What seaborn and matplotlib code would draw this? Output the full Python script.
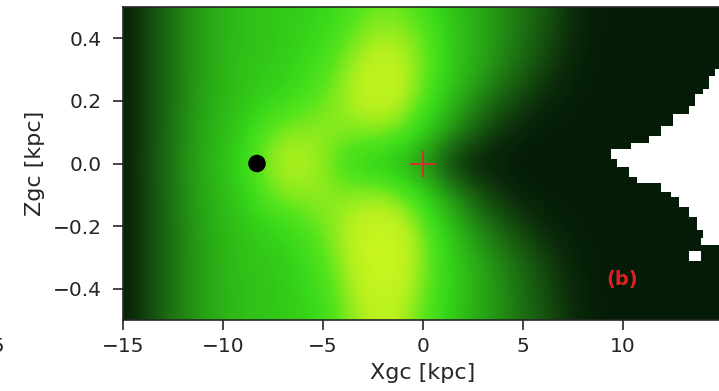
import numpy as np
import seaborn as sns
import matplotlib.pyplot as plt
from matplotlib.colors import LinearSegmentedColormap

# grid of the map (x in kpc, z in kpc)
x_grid = list(range(-15, 16))
z_grid = [0.5, 0.4, 0.3, 0.2, 0.1, 0.0, -0.1, -0.2, -0.3, -0.4, -0.5]

# relative brightness, one row per z value, columns x = -15 .. 15
row_p05 = [.03, .16, .28, .38, .46, .52, .56, .58, .60, .61, .64, .68, .74, .78, .76, .70, .60, .54, .47, .40, .33, .25, .15, .06, .03, .03, .03, .03, .03, .03, .03]
row_p04 = [.03, .16, .28, .38, .46, .52, .56, .58, .60, .63, .67, .74, .84, .88, .86, .78, .65, .56, .48, .40, .32, .23, .13, .05, .03, .03, .03, .03, .03, .03, .03]
row_p03 = [.03, .16, .28, .38, .46, .52, .57, .59, .61, .66, .72, .82, .92, .95, .92, .80, .66, .55, .46, .37, .28, .18, .09, .04, .03, .03, .03, .03, .03, .03, .03]
row_p02 = [.03, .16, .28, .38, .47, .53, .58, .62, .66, .72, .78, .86, .93, .95, .90, .76, .60, .47, .36, .26, .16, .08, .04, .03, .03, .03, .03, .03, .03, .03, .03]
row_p01 = [.03, .16, .28, .39, .48, .55, .62, .74, .82, .84, .84, .82, .82, .82, .76, .62, .48, .36, .22, .11, .05, .03, .03, .03, .03, .03, .03, .03, .03, .03, .03]
row_000 = [.03, .16, .29, .40, .49, .57, .66, .80, .90, .90, .84, .70, .62, .56, .50, .40, .25, .08, .03, .02, .02, .02, .02, .02, .02, .02, .02, .02, .02, .02, .02]
row_m01 = [.03, .16, .28, .39, .48, .55, .62, .74, .82, .84, .84, .83, .85, .85, .78, .64, .49, .36, .22, .11, .05, .03, .03, .03, .03, .03, .03, .03, .03, .03, .03]
row_m02 = [.03, .16, .28, .38, .47, .53, .58, .62, .66, .72, .80, .88, .95, .97, .93, .80, .62, .48, .36, .26, .16, .08, .04, .03, .03, .03, .03, .03, .03, .03, .03]
row_m03 = [.03, .16, .28, .38, .46, .52, .57, .59, .61, .66, .74, .86, .95, .98, .95, .83, .67, .56, .46, .37, .28, .18, .09, .04, .03, .03, .03, .03, .03, .03, .03]
row_m04 = [.03, .16, .28, .38, .46, .52, .56, .58, .60, .64, .70, .82, .93, .96, .93, .80, .67, .57, .48, .40, .31, .22, .12, .05, .03, .03, .03, .03, .03, .03, .03]
row_m05 = [.03, .16, .28, .38, .46, .52, .56, .58, .60, .62, .67, .78, .88, .92, .88, .76, .64, .55, .47, .40, .32, .24, .14, .06, .03, .03, .03, .03, .03, .03, .03]

# blank (white) cells on the right side
mask_z_top = [0.301, 0.279, 0.237, 0.221, 0.183, 0.157, 0.119, 0.087, 0.067, 0.045, 0.013, -0.010, -0.042, -0.061, -0.090, -0.106, -0.138, -0.170, -0.212, -0.237, -0.280]
mask_z_bot = [0.279, 0.237, 0.221, 0.183, 0.157, 0.119, 0.087, 0.067, 0.045, 0.013, -0.010, -0.042, -0.061, -0.090, -0.106, -0.138, -0.170, -0.212, -0.237, -0.260, -0.310]
mask_x_start = [14.6, 14.3, 14.0, 13.6, 13.3, 12.5, 11.9, 11.3, 10.4, 9.4, 9.7, 10.3, 10.7, 11.9, 12.4, 12.8, 13.3, 13.7, 14.0, 13.9, 13.3]
mask_x_end = [15.5, 15.5, 15.5, 15.5, 15.5, 15.5, 15.5, 15.5, 15.5, 15.5, 15.5, 15.5, 15.5, 15.5, 15.5, 15.5, 15.5, 15.5, 15.5, 15.5, 13.9]

sun_x, sun_z = [-8.3], [0.0]
gc_x, gc_z = [0.0], [0.0]

cmap_pos = [0.0, 0.1, 0.3, 0.5, 0.65, 0.75, 0.9, 1.0]
cmap_col = ["#021606", "#0c2e0a", "#1b6a12", "#2aae16", "#38d81a", "#55e41c", "#b4f01e", "#d2f820"]
greens = LinearSegmentedColormap.from_list("gy", list(zip(cmap_pos, cmap_col)))

field = np.array([row_p05, row_p04, row_p03, row_p02, row_p01, row_000,
                  row_m01, row_m02, row_m03, row_m04, row_m05])

sns.set_style("ticks")
plt.rcParams['font.family'] = ['DejaVu Sans']

fig = plt.figure(figsize=(7.19, 3.91), dpi=100)
ax = fig.add_axes([123 / 719, 1 - 320 / 391, 600 / 719, 313 / 391])

ax.imshow(field, cmap=greens, vmin=0, vmax=1, interpolation='bicubic', aspect='auto',
          extent=[x_grid[0] - 0.5, x_grid[-1] + 0.5, z_grid[-1] - 0.05, z_grid[0] + 0.05])

ax.barh(y=[(a + b) / 2 for a, b in zip(mask_z_top, mask_z_bot)],
        width=[e - s for s, e in zip(mask_x_start, mask_x_end)],
        height=[a - b for a, b in zip(mask_z_top, mask_z_bot)],
        left=mask_x_start, color='white', linewidth=0)

sns.scatterplot(x=sun_x, y=sun_z, ax=ax, color='black', s=160, edgecolor='none', zorder=5)
sns.scatterplot(x=gc_x, y=gc_z, ax=ax, color='#dd2a2a', marker='+', s=330, linewidth=1.3, zorder=5)

ax.text(9.95, -0.37, "(b)", color='#e02020', fontsize=14, fontweight='bold', ha='center', va='center')

ax.set_xlim(-15, 15)
ax.set_ylim(-0.5, 0.5)
ax.set_xticks([-15, -10, -5, 0, 5, 10])
ax.set_yticks([-0.4, -0.2, 0.0, 0.2, 0.4])
ax.tick_params(labelsize=14.5, length=7, width=1.2, pad=5)
ax.tick_params(axis='y', pad=8)
for s in ax.spines.values():
    s.set_linewidth(1.2)
ax.set_xlabel("Xgc [kpc]", fontsize=16, labelpad=5)
ax.set_ylabel("Zgc [kpc]", fontsize=16, labelpad=6)

# piece of the neighbouring panel's tick label
fig.text(0.008, 1 - 346 / 391, "15", fontsize=14.5, color='.15', ha='right', va='center')

fig.savefig("out.png", dpi=100)
